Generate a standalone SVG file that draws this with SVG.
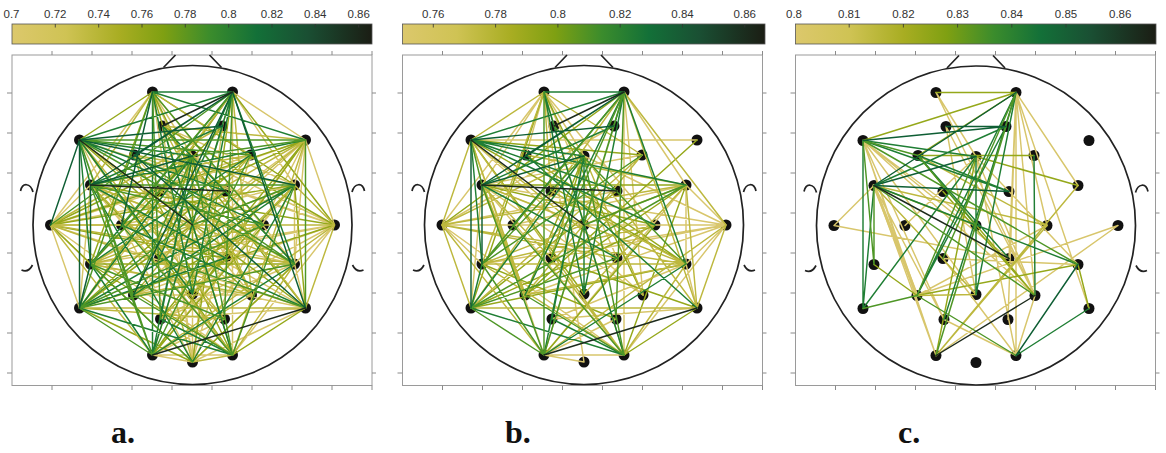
<svg xmlns="http://www.w3.org/2000/svg" xmlns:xlink="http://www.w3.org/1999/xlink" width="1166" height="453" viewBox="0 0 1166 453">
<defs>
<linearGradient id="pal" x1="0" y1="0" x2="1" y2="0">
<stop offset="0" stop-color="#dcc86c"/>
<stop offset="0.15" stop-color="#cfc354"/>
<stop offset="0.3" stop-color="#a8ad22"/>
<stop offset="0.42" stop-color="#7fa012"/>
<stop offset="0.55" stop-color="#3b8c2c"/>
<stop offset="0.68" stop-color="#137038"/>
<stop offset="0.82" stop-color="#1a4f33"/>
<stop offset="1" stop-color="#1b1d14"/>
</linearGradient>
<style>
.frame{fill:#fff;stroke:#9a9a9a;stroke-width:1}
.tick{fill:none;stroke:#8a8a8a;stroke-width:1}
.cb{fill:url(#pal);stroke:#555;stroke-width:0.8}
.cbt{fill:none;stroke:#333;stroke-width:0.8}
.lab{font-family:"Liberation Sans",Arial,sans-serif;font-size:11.5px;fill:#333;text-anchor:middle}
.head{fill:none;stroke:#222;stroke-width:1.7}
.el circle{fill:#111}
.edges path{fill:none;stroke-width:1.45;stroke-linecap:round}
.c1{stroke:#d8c66c}
.c2{stroke:#bdb83e}
.c3{stroke:#95a81a}
.c4{stroke:#4e9626}
.c5{stroke:#1f7e34}
.c6{stroke:#0e5e34}
.c7{stroke:#1c2a1c}
.edges path.tk{stroke-width:3}
.pl{font-family:"Liberation Serif","Times New Roman",serif;font-weight:bold;font-size:32px;fill:#111}
</style>
<g id="frm">
<rect class="frame" x="0" y="55" width="360" height="330.5"/>
<path class="tick" d="M40 55V51M80 55V51M120 55V51M160 55V51M200 55V51M240 55V51M280 55V51M320 55V51M360 55V51M40 385.5V390M80 385.5V390M120 385.5V390M160 385.5V390M200 385.5V390M240 385.5V390M280 385.5V390M320 385.5V390M360 385.5V390M0 93H-5M0 133H-5M0 173H-5M0 213H-5M0 253H-5M0 293H-5M0 333H-5M0 373H-5M360 93H364M360 133H364M360 173H364M360 213H364M360 253H364M360 293H364M360 333H364M360 373H364"/>
</g>
<g id="hd">
<circle class="head" cx="0" cy="0" r="159.5"/>
<path class="head" d="M-29 -157.5L-17 -170M17 -170L29 -157.5M-159.5 -33C-162 -42 -170 -43 -172 -34M-160 40Q-164 48 -171 45M159.5 -33C162 -42 170 -43 172 -34M160 40Q164 48 171 45"/>
</g>
</defs>
<rect x="0" y="0" width="1166" height="453" fill="#fff"/>

<g id="colorbars">
<rect class="cb" x="12" y="24" width="360" height="20"/>
<path class="cbt" d="M55.3 24V27.5M98.7 24V27.5M142 24V27.5M185.3 24V27.5M228.7 24V27.5M272 24V27.5M315.3 24V27.5M358.7 24V27.5"/>
<text class="lab" x="11.5" y="18">0.7</text><text class="lab" x="55.3" y="18">0.72</text><text class="lab" x="98.7" y="18">0.74</text><text class="lab" x="142" y="18">0.76</text><text class="lab" x="185.3" y="18">0.78</text><text class="lab" x="228.7" y="18">0.8</text><text class="lab" x="272" y="18">0.82</text><text class="lab" x="315.3" y="18">0.84</text><text class="lab" x="358.7" y="18">0.86</text>
<rect class="cb" x="402.5" y="24" width="362.5" height="20"/>
<path class="cbt" d="M433.3 24V27.5M495.6 24V27.5M557.9 24V27.5M620.2 24V27.5M682.5 24V27.5M744.8 24V27.5"/>
<text class="lab" x="433.3" y="17.5">0.76</text><text class="lab" x="495.6" y="17.5">0.78</text><text class="lab" x="557.9" y="17.5">0.8</text><text class="lab" x="620.2" y="17.5">0.82</text><text class="lab" x="682.5" y="17.5">0.84</text><text class="lab" x="744.8" y="17.5">0.86</text>
<rect class="cb" x="795.5" y="24" width="360.5" height="20"/>
<path class="cbt" d="M849.2 24V27.5M903.4 24V27.5M957.6 24V27.5M1011.8 24V27.5M1066 24V27.5M1120.2 24V27.5"/>
<text class="lab" x="794" y="17.5">0.8</text><text class="lab" x="849.2" y="17.5">0.81</text><text class="lab" x="903.4" y="17.5">0.82</text><text class="lab" x="957.6" y="17.5">0.83</text><text class="lab" x="1011.8" y="17.5">0.84</text><text class="lab" x="1066" y="17.5">0.85</text><text class="lab" x="1120.2" y="17.5">0.86</text>
</g>

<use xlink:href="#frm" href="#frm" x="12" y="0"/>
<use xlink:href="#frm" href="#frm" x="402.5" y="0"/>
<use xlink:href="#frm" href="#frm" x="795.5" y="0"/>

<!-- Panel a -->
<g id="panel-a" transform="translate(192.5,225)">
<use xlink:href="#hd" href="#hd"/>
<g class="el">
<g id="a-Fp1"><circle cx="-40" cy="-133" r="5.5"/></g><g id="a-Fp2"><circle cx="40" cy="-133" r="5.5"/></g>
<g id="a-AF3"><circle cx="-30" cy="-99" r="5.5"/></g><g id="a-AF4"><circle cx="30" cy="-99" r="5.5"/></g>
<g id="a-F7"><circle cx="-113" cy="-85" r="5.5"/></g><g id="a-F8"><circle cx="113" cy="-85" r="5.5"/></g>
<g id="a-F3"><circle cx="-58" cy="-70" r="5.5"/></g><g id="a-Fz"><circle cx="0" cy="-69" r="5.5"/></g><g id="a-F4"><circle cx="58" cy="-70" r="5.5"/></g>
<g id="a-FC5"><circle cx="-102" cy="-40" r="5.5"/></g><g id="a-FC1"><circle cx="-33" cy="-34" r="5.5"/></g><g id="a-FC2"><circle cx="33" cy="-34" r="5.5"/></g><g id="a-FC6"><circle cx="102" cy="-40" r="5.5"/></g>
<g id="a-T7"><circle cx="-142" cy="0" r="5.5"/></g><g id="a-C3"><circle cx="-71" cy="0" r="5.5"/></g><g id="a-Cz"><circle cx="0" cy="0" r="5.5"/></g><g id="a-C4"><circle cx="71" cy="0" r="5.5"/></g><g id="a-T8"><circle cx="142" cy="0" r="5.5"/></g>
<g id="a-CP5"><circle cx="-102" cy="39" r="5.5"/></g><g id="a-CP1"><circle cx="-33" cy="33" r="5.5"/></g><g id="a-CP2"><circle cx="33" cy="33" r="5.5"/></g><g id="a-CP6"><circle cx="102" cy="39" r="5.5"/></g>
<g id="a-P7"><circle cx="-113" cy="83" r="5.5"/></g><g id="a-P3"><circle cx="-59" cy="70" r="5.5"/></g><g id="a-Pz"><circle cx="0" cy="69" r="5.5"/></g><g id="a-P4"><circle cx="59" cy="70" r="5.5"/></g><g id="a-P8"><circle cx="113" cy="83" r="5.5"/></g>
<g id="a-PO3"><circle cx="-32" cy="94" r="5.5"/></g><g id="a-PO4"><circle cx="32" cy="94" r="5.5"/></g>
<g id="a-O1"><circle cx="-40" cy="130" r="5.5"/></g><g id="a-Oz"><circle cx="0" cy="137" r="5.5"/></g><g id="a-O2"><circle cx="40" cy="130" r="5.5"/></g>
</g>
<g id="a-connectors" class="edges">
<path class="c1" d="M-40 -133L-142 0M-40 -133L0 137M-40 -133L0 -69M-40 -133L33 33M-40 -133L102 39M40 -133L40 130M40 -133L113 -85M40 -133L102 -40M40 -133L0 0M-113 -85L0 137M-113 -85L142 0M113 -85L102 -40M113 -85L142 0M113 -85L102 39M113 -85L0 137M113 -85L-59 70M113 -85L-113 83M113 -85L0 69M113 -85L-33 -34M-102 -40L113 83M-102 -40L40 130M-102 -40L-113 83M-102 -40L-142 0M-102 -40L0 0M-102 -40L59 70M102 -40L-40 130M102 -40L102 39M102 -40L-71 0M102 -40L-30 -99M102 -40L-33 33M-142 0L-102 39M-142 0L-113 83M-142 0L40 130M-142 0L113 83M-142 0L58 -70M-142 0L71 0M-142 0L33 -34M-142 0L-33 -34M142 0L102 39M142 0L40 130M142 0L0 137M142 0L-102 39M142 0L0 -69M142 0L-58 -70M142 0L-59 70M142 0L-32 94M142 0L-33 33M-102 39L113 83M-102 39L33 -34M102 39L113 83M102 39L-71 0M102 39L-32 94M-113 83L30 -99M113 83L0 137M113 83L-32 94M-40 130L0 137M-40 130L40 130M-40 130L0 0M-40 130L32 94M0 137L0 -69M0 137L-30 -99M0 137L30 -99M0 137L58 -70M0 -69L-71 0M-59 70L59 70M59 70L-58 -70"/>
<path class="c3" d="M-40 -133L-113 -85M-40 -133L-102 39M-40 -133L40 130M-40 -133L59 70M-40 -133L102 -40M40 -133L-113 83M40 -133L0 137M40 -133L142 0M-113 -85L40 130M-113 -85L59 70M-113 -85L113 83M113 -85L-40 130M113 -85L-71 0M113 -85L-142 0M113 -85L-32 94M-102 -40L142 0M-102 -40L-33 33M102 -40L-142 0M102 -40L113 83M102 -40L0 69M-142 0L0 137M-142 0L0 -69M-142 0L33 33M142 0L-113 83M142 0L-30 -99M-102 39L102 39M-102 39L40 130M-102 39L30 -99M102 39L0 137M102 39L0 -69M-113 83L0 137M-113 83L58 -70M-113 83L0 0M113 83L40 130M113 83L-30 -99M-40 130L71 0M40 130L-58 -70M0 -69L0 69M0 -69L-33 33M-59 70L71 0"/>
<path class="c2" d="M-40 -133L-102 -40M-40 -133L58 -70M40 -133L59 70M40 -133L-33 -34M-113 -85L33 33M-113 -85L32 94M113 -85L40 130M113 -85L-33 33M113 -85L-102 39M113 -85L-30 -99M-102 -40L102 39M-102 -40L58 -70M-102 -40L32 94M102 -40L-102 39M102 -40L142 0M102 -40L-32 94M102 -40L-58 -70M-142 0L142 0M-142 0L-40 130M-142 0L102 39M-142 0L59 70M-142 0L30 -99M142 0L113 83M142 0L-40 130M-102 39L71 0M-102 39L59 70M102 39L40 130M102 39L-59 70M102 39L-33 -34M-113 83L113 83M-113 83L32 94M113 83L0 -69M-40 130L59 70M0 137L40 130M0 137L-58 -70M40 130L-33 33M0 -69L59 70M-59 70L58 -70M59 70L-30 -99"/>
<path class="c5" d="M-40 -133L40 -133M-40 -133L-40 130M-40 -133L0 69M-40 -133L113 -85M40 -133L-113 -85M40 -133L-102 39M40 -133L-40 130M40 -133L102 39M40 -133L0 69M40 -133L-33 33M-113 -85L-102 -40M-113 -85L-102 39M-113 -85L0 69M-113 -85L71 0M-113 -85L0 -69M-113 -85L33 -34M113 -85L-102 -40M-102 -40L0 137M-102 -40L30 -99M-102 -40L33 33M102 -40L-113 83M102 -40L0 137M102 -40L-59 70M-102 39L-40 130M-102 39L58 -70M102 39L-40 130M102 39L-30 -99M-113 83L40 130M-113 83L0 -69M-113 83L33 33M113 83L-71 0M-40 130L0 -69M-40 130L30 -99M40 130L-30 -99M40 130L-32 94M0 -69L-32 94"/>
<path class="c4" d="M-40 -133L-113 83M-40 -133L71 0M-40 -133L-32 94M40 -133L-142 0M40 -133L32 94M40 -133L-71 0M-113 -85L113 -85M-113 -85L-40 130M-113 -85L-59 70M-113 -85L102 39M-113 -85L58 -70M113 -85L113 83M113 -85L0 -69M-102 -40L102 -40M-102 -40L-40 130M-102 -40L71 0M102 -40L40 130M102 -40L0 0M-102 39L0 137M-102 39L0 -69M-102 39L32 94M102 39L-113 83M102 39L-58 -70M-113 83L-40 130M-113 83L71 0M-113 83L33 -34M113 83L-33 33M-40 130L58 -70M40 130L0 -69M40 130L-71 0M40 130L-59 70M0 -69L-59 70"/>
<path class="c6" d="M-40 -133L-71 0M40 -133L-102 -40M40 -133L-59 70M40 -133L113 83M40 -133L-58 -70M-113 -85L-142 0M-113 -85L-113 83M-113 -85L102 -40M-113 -85L30 -99M-102 -40L-102 39M-102 -40L0 -69M-102 39L-113 83M113 83L-58 -70"/>
<path class="c7" d="M40 -133L-30 -99M-113 -85L0 0M-102 -40L33 -34M113 83L-40 130"/>
</g>
</g>

<!-- Panel b -->
<g id="panel-b" transform="translate(584,225)">
<use xlink:href="#hd" href="#hd"/>
<g class="el">
<g id="b-Fp1"><circle cx="-40" cy="-133" r="5.5"/></g><g id="b-Fp2"><circle cx="40" cy="-133" r="5.5"/></g>
<g id="b-AF3"><circle cx="-30" cy="-99" r="5.5"/></g><g id="b-AF4"><circle cx="30" cy="-99" r="5.5"/></g>
<g id="b-F7"><circle cx="-113" cy="-85" r="5.5"/></g><g id="b-F8"><circle cx="113" cy="-85" r="5.5"/></g>
<g id="b-F3"><circle cx="-58" cy="-70" r="5.5"/></g><g id="b-Fz"><circle cx="0" cy="-69" r="5.5"/></g><g id="b-F4"><circle cx="58" cy="-70" r="5.5"/></g>
<g id="b-FC5"><circle cx="-102" cy="-40" r="5.5"/></g><g id="b-FC1"><circle cx="-33" cy="-34" r="5.5"/></g><g id="b-FC2"><circle cx="33" cy="-34" r="5.5"/></g><g id="b-FC6"><circle cx="102" cy="-40" r="5.5"/></g>
<g id="b-T7"><circle cx="-142" cy="0" r="5.5"/></g><g id="b-C3"><circle cx="-71" cy="0" r="5.5"/></g><g id="b-Cz"><circle cx="0" cy="0" r="5.5"/></g><g id="b-C4"><circle cx="71" cy="0" r="5.5"/></g><g id="b-T8"><circle cx="142" cy="0" r="5.5"/></g>
<g id="b-CP5"><circle cx="-102" cy="39" r="5.5"/></g><g id="b-CP1"><circle cx="-33" cy="33" r="5.5"/></g><g id="b-CP2"><circle cx="33" cy="33" r="5.5"/></g><g id="b-CP6"><circle cx="102" cy="39" r="5.5"/></g>
<g id="b-P7"><circle cx="-113" cy="83" r="5.5"/></g><g id="b-P3"><circle cx="-59" cy="70" r="5.5"/></g><g id="b-Pz"><circle cx="0" cy="69" r="5.5"/></g><g id="b-P4"><circle cx="59" cy="70" r="5.5"/></g><g id="b-P8"><circle cx="113" cy="83" r="5.5"/></g>
<g id="b-PO3"><circle cx="-32" cy="94" r="5.5"/></g><g id="b-PO4"><circle cx="32" cy="94" r="5.5"/></g>
<g id="b-O1"><circle cx="-40" cy="130" r="5.5"/></g><g id="b-Oz"><circle cx="0" cy="137" r="5.5"/></g><g id="b-O2"><circle cx="40" cy="130" r="5.5"/></g>
</g>
<g id="b-connectors" class="edges">
<path class="c1" d="M-40 -133L-102 -40M-40 -133L-142 0M-40 -133L0 137M-40 -133L0 -69M-40 -133L71 0M-40 -133L33 33M-40 -133L-58 -70M40 -133L40 130M40 -133L102 -40M40 -133L59 70M-113 -85L-40 130M-113 -85L59 70M-113 -85L113 -85M-102 -40L142 0M-102 -40L40 130M-102 -40L-113 83M-102 -40L58 -70M-102 -40L0 0M-102 -40L59 70M102 -40L-40 130M102 -40L102 39M102 -40L142 0M102 -40L-71 0M-142 0L142 0M-142 0L-102 39M-142 0L40 130M-142 0L33 -34M-142 0L30 -99M142 0L102 39M142 0L40 130M142 0L-102 39M142 0L0 -69M142 0L-59 70M142 0L-33 33M102 39L113 83M102 39L-32 94M113 83L-32 94M-40 130L0 137M-40 130L40 130M-40 130L0 0M-40 130L32 94"/>
<path class="c3" d="M-40 -133L-113 83M-40 -133L59 70M40 -133L-142 0M-113 -85L0 69M-113 -85L102 39M-113 -85L58 -70M-102 -40L102 -40M-102 -40L71 0M102 -40L40 130M102 -40L-59 70M-102 39L32 94M102 39L-113 83M102 39L-58 -70M-113 83L71 0M-113 83L33 -34M113 83L40 130M113 83L-33 33M-40 130L71 0M0 -69L-59 70M0 -69L-33 33M-59 70L113 -85"/>
<path class="c2" d="M-40 -133L-113 -85M-40 -133L-102 39M-40 -133L40 130M-40 -133L58 -70M-40 -133L-33 -34M40 -133L-113 83M40 -133L142 0M40 -133L113 83M-113 -85L-142 0M-113 -85L40 130M-113 -85L-59 70M-113 -85L33 33M-102 -40L102 39M-102 -40L-33 33M102 -40L-142 0M102 -40L-102 39M102 -40L113 83M102 -40L-58 -70M102 -40L0 69M-142 0L-113 83M-142 0L-40 130M-142 0L102 39M-142 0L0 -69M-142 0L33 33M142 0L113 83M142 0L-40 130M-102 39L102 39M-102 39L40 130M-102 39L71 0M102 39L40 130M102 39L-59 70M102 39L-33 -34M-113 83L113 83M-113 83L58 -70M113 83L0 -69M40 130L-33 33M0 -69L59 70M-59 70L58 -70"/>
<path class="c2 tk" d="M-102 -40L-59 70"/>
<path class="c5" d="M-40 -133L40 -133M-40 -133L0 69M-40 -133L-30 -99M40 -133L-113 -85M40 -133L-59 70M40 -133L102 39M40 -133L0 69M40 -133L-71 0M40 -133L30 -99M-113 -85L-102 39M-113 -85L71 0M-113 -85L102 -40M-113 -85L0 -69M-113 -85L33 -34M-102 -40L30 -99M-102 -40L33 33M-102 39L-113 83M102 39L-40 130M-113 83L40 130M-113 83L0 -69M113 83L-58 -70M-40 130L0 -69M40 130L-30 -99M40 130L-32 94M0 -69L0 69M0 -69L-32 94"/>
<path class="c4" d="M-40 -133L-40 130M40 -133L-102 39M40 -133L-40 130M40 -133L32 94M40 -133L-33 33M-113 -85L-102 -40M-102 -40L-40 130M102 -40L-113 83M102 -40L0 0M-102 39L-40 130M-102 39L0 -69M-102 39L58 -70M102 39L-30 -99M-113 83L-40 130M-113 83L33 33M-40 130L30 -99M40 130L0 -69M40 130L-71 0M40 130L-59 70"/>
<path class="c6" d="M40 -133L-102 -40M40 -133L-58 -70M-113 -85L-113 83M-113 -85L30 -99M-102 -40L-102 39M-102 -40L0 -69"/>
<path class="c7" d="M40 -133L-30 -99M-113 -85L0 0M-102 -40L33 -34M113 83L-40 130"/>
</g>
</g>

<!-- Panel c -->
<g id="panel-c" transform="translate(976,225.5)">
<use xlink:href="#hd" href="#hd"/>
<g class="el">
<g id="c-Fp1"><circle cx="-40" cy="-133" r="5.5"/></g><g id="c-Fp2"><circle cx="40" cy="-133" r="5.5"/></g>
<g id="c-AF3"><circle cx="-30" cy="-99" r="5.5"/></g><g id="c-AF4"><circle cx="30" cy="-99" r="5.5"/></g>
<g id="c-F7"><circle cx="-113" cy="-85" r="5.5"/></g><g id="c-F8"><circle cx="113" cy="-85" r="5.5"/></g>
<g id="c-F3"><circle cx="-58" cy="-70" r="5.5"/></g><g id="c-Fz"><circle cx="0" cy="-69" r="5.5"/></g><g id="c-F4"><circle cx="58" cy="-70" r="5.5"/></g>
<g id="c-FC5"><circle cx="-102" cy="-40" r="5.5"/></g><g id="c-FC1"><circle cx="-33" cy="-34" r="5.5"/></g><g id="c-FC2"><circle cx="33" cy="-34" r="5.5"/></g><g id="c-FC6"><circle cx="102" cy="-40" r="5.5"/></g>
<g id="c-T7"><circle cx="-142" cy="0" r="5.5"/></g><g id="c-C3"><circle cx="-71" cy="0" r="5.5"/></g><g id="c-Cz"><circle cx="0" cy="0" r="5.5"/></g><g id="c-C4"><circle cx="71" cy="0" r="5.5"/></g><g id="c-T8"><circle cx="142" cy="0" r="5.5"/></g>
<g id="c-CP5"><circle cx="-102" cy="39" r="5.5"/></g><g id="c-CP1"><circle cx="-33" cy="33" r="5.5"/></g><g id="c-CP2"><circle cx="33" cy="33" r="5.5"/></g><g id="c-CP6"><circle cx="102" cy="39" r="5.5"/></g>
<g id="c-P7"><circle cx="-113" cy="83" r="5.5"/></g><g id="c-P3"><circle cx="-59" cy="70" r="5.5"/></g><g id="c-Pz"><circle cx="0" cy="69" r="5.5"/></g><g id="c-P4"><circle cx="59" cy="70" r="5.5"/></g><g id="c-P8"><circle cx="113" cy="83" r="5.5"/></g>
<g id="c-PO3"><circle cx="-32" cy="94" r="5.5"/></g><g id="c-PO4"><circle cx="32" cy="94" r="5.5"/></g>
<g id="c-O1"><circle cx="-40" cy="130" r="5.5"/></g><g id="c-Oz"><circle cx="0" cy="137" r="5.5"/></g><g id="c-O2"><circle cx="40" cy="130" r="5.5"/></g>
</g>
<g id="c-connectors" class="edges">
<path class="c1" d="M40 -133L33 33M40 -133L32 94M40 -133L40 130M40 -133L59 70M40 -133L102 -40M40 -133L71 0M40 -133L113 83M-40 -133L0 -69M-40 -133L59 70M-113 -85L0 0M-113 -85L33 33M-113 -85L59 70M-113 -85L-59 70M-113 -85L-32 94M-113 -85L-40 130M-113 -85L0 69M-102 -40L-142 0M-102 -40L-40 130M-102 -40L-32 94M0 -69L59 70M0 -69L102 39M0 -69L40 130M0 -69L-71 0M-30 -99L59 70M-30 -99L0 69M-142 0L33 33M142 0L-59 70M102 39L-33 33M59 70L40 130M-59 70L71 0M-40 130L142 0M40 130L-33 33M40 130L-32 94"/>
<path class="c1 tk" d="M-102 -40L-59 70"/>
<path class="c3" d="M40 -133L-40 -133M40 -133L-113 -85M40 -133L-58 -70M-102 -40L0 0M-58 -70L58 -70M-58 -70L59 70M0 -69L102 -40M0 -69L-40 130M102 39L-59 70M102 39L113 83M59 70L-33 -34M-59 70L-102 39"/>
<path class="c2" d="M-102 -40L0 69M-102 -40L71 0M-58 -70L71 0M-59 70L0 69M-40 130L102 -40M-40 130L71 0"/>
<path class="c5" d="M40 -133L-59 70M40 -133L-32 94M40 -133L0 69M-113 -85L0 -69M-113 -85L-113 83M-113 -85L33 -34M-102 -40L30 -99M-102 -40L-113 83M-102 -40L102 39M-58 -70L33 -34M-58 -70L33 33M0 -69L-113 83M0 -69L0 69M30 -99L-59 70M58 -70L59 70M113 83L40 130"/>
<path class="c4" d="M40 -133L-40 130M40 -133L-33 33M-113 -85L-58 -70M-113 -85L-102 39M-102 -40L-102 39M-102 -40L59 70M-58 -70L0 0M0 -69L-59 70M30 -99L-40 130M102 39L-113 -85M-59 70L-113 83M-59 70L40 130"/>
<path class="c6" d="M40 -133L-102 -40M-113 -85L30 -99M-102 -40L33 -34M-102 -40L0 -69M-30 -99L30 -99M102 39L40 130"/>
<path class="c7" d="M-102 -40L33 33M59 70L-40 130"/>
</g>
</g>

<g id="panel-labels">
<text class="pl" x="111" y="443">a.</text>
<text class="pl" x="505" y="443">b.</text>
<text class="pl" x="898" y="443">c.</text>
</g>
</svg>
